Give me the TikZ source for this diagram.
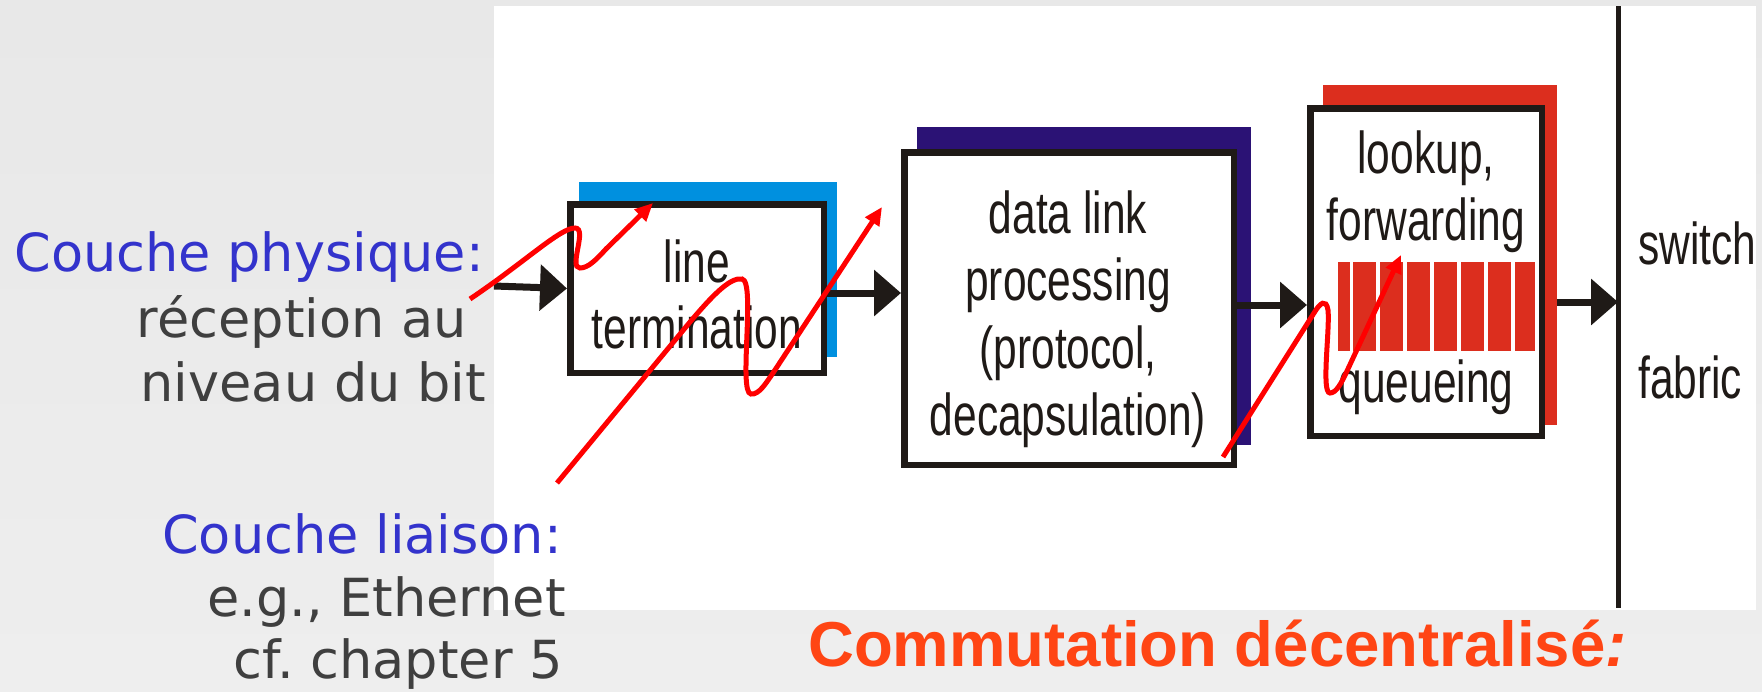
\documentclass[tikz,border=0pt]{standalone}
\usepackage{fontspec}
\setmainfont{DejaVu Sans}
\newfontfamily\narrowfont[FakeStretch=0.72]{Liberation Sans}
\newfontfamily\libsans{Liberation Sans}
\usetikzlibrary{arrows.meta}
\frenchspacing
\definecolor{bgtop}{HTML}{E8E8E8}
\definecolor{bgmid}{HTML}{E0E0E0}
\definecolor{bgbot}{HTML}{EEEEEE}
\definecolor{inkblack}{HTML}{1F1A17}
\definecolor{shblue}{HTML}{0090DF}
\definecolor{shnavy}{HTML}{2B1275}
\definecolor{shred}{HTML}{DC2E1E}
\definecolor{txtblue}{HTML}{3333CC}
\definecolor{txtgray}{HTML}{3F3F3F}
\definecolor{txtorange}{HTML}{FF4514}
\tikzset{
  shadowbox/.style={draw=none, inner sep=0pt, outer sep=0pt},
  procbox/.style={draw=inkblack, fill=white, line width=6.5pt, inner sep=0pt, outer sep=3.25pt},
  boxtext/.style={inner sep=0pt, anchor=base, text=inkblack, font=\narrowfont\fontsize{59}{68}\selectfont},
  sidetext/.style={inner sep=0pt, anchor=base east, font=\frenchspacing\fontsize{52.5}{63}\selectfont},
  blkarrow/.style={draw=inkblack, line width=7pt, -{Triangle[length=27pt,width=45pt]}},
  redarrow/.style={draw=red, line width=5pt, -{Triangle[length=18pt,width=16pt]}},
  qbar/.style={fill=shred, draw=none}
}
\begin{document}
\begin{tikzpicture}[x=1pt,y=-1pt]
\useasboundingbox (0,0) rectangle (1762,691);
\shade[top color=bgtop, middle color=bgmid, bottom color=bgbot] (0,0) rectangle (1762,691);
\fill[white] (494,6) rectangle (1756,610);

% shadows
\node[shadowbox, fill=shblue, minimum width=258pt, minimum height=175pt] (sh1) at (708,269.5) {};
\node[shadowbox, fill=shnavy, minimum width=334pt, minimum height=318pt] (sh2) at (1084,286) {};
\node[shadowbox, fill=shred, minimum width=234pt, minimum height=340pt] (sh3) at (1440,255) {};

% boxes
\node[procbox, minimum width=253.5pt, minimum height=168.5pt] (box1) at (697,288.5) {};
\node[procbox, minimum width=329.5pt, minimum height=312.5pt] (box2) at (1069,308.5) {};
\node[procbox, minimum width=231.5pt, minimum height=327.5pt] (box3) at (1426,272) {};

% queue bars
\fill[qbar] (1338,262) rectangle (1350,351);
\fill[qbar] (1353,262) rectangle (1376,351);
\fill[qbar] (1380,262) rectangle (1403,351);
\fill[qbar] (1407,262) rectangle (1430,351);
\fill[qbar] (1434,262) rectangle (1457,351);
\fill[qbar] (1461,262) rectangle (1484,351);
\fill[qbar] (1488,262) rectangle (1511,351);
\fill[qbar] (1515,262) rectangle (1535,351);

% box texts
\node[boxtext] (t1a) at (697,282) {line};
\node[boxtext] (t1b) at (697,348) {termination};
\node[boxtext] (t2a) at (1068,233) {data link};
\node[boxtext] (t2b) at (1068,300) {processing};
\node[boxtext] (t2c) at (1068,368) {(protocol,};
\node[boxtext] (t2d) at (1068,435) {decapsulation)};
\node[boxtext] (t3a) at (1426,173) {lookup,};
\node[boxtext] (t3b) at (1426,240) {forwarding};
\node[boxtext] (t3c) at (1426,402) {queueing};
\node[boxtext, anchor=base west] (sw1) at (1638,264) {switch};
\node[boxtext, anchor=base west] (sw2) at (1638,398) {fabric};

% switch fabric line
\coordinate (swtop) at (1618,6);
\coordinate (swbot) at (1618,608);
\draw[draw=inkblack, line width=5pt] (swtop) -- (swbot);

% black arrows
\coordinate (in1) at (494,286);
\coordinate (a2) at (0,293);
\coordinate (a3) at (0,305);
\coordinate (a4) at (0,302);
\draw[blkarrow] (in1) -- (box1.west);
\draw[blkarrow] (box1.east |- a2) -- (box2.west |- a2);
\draw[blkarrow] (box2.east |- a3) -- (box3.west |- a3);
\draw[blkarrow] (sh3.east |- a4) -- (swtop |- a4);

% side texts
\node[sidetext, text=txtblue] (cp1) at (484,271) {Couche physique:};
\node[sidetext, text=txtgray] (cp2) at (467,337) {réception au};
\node[sidetext, text=txtgray] (cp3) at (486,401) {niveau du bit};
\node[sidetext, text=txtblue] (cl1) at (562,553) {Couche liaison:};
\node[sidetext, text=txtgray] (cl2) at (566,616) {e.g., Ethernet};
\node[sidetext, text=txtgray] (cl3) at (563,678) {cf. chapter 5};

% red squiggles
\coordinate (r1s) at (470,299);
\coordinate (r1e) at (653,203);
\draw[redarrow] (r1s) .. controls (525,262) and (560,228) .. (575,228)
  .. controls (588,228) and (568,268) .. (580,268)
  .. controls (588,268) and (596,260) .. (606,249) -- (r1e);
\coordinate (r2s) at (557,483);
\coordinate (r2e) at (882,207);
\draw[redarrow] (r2s) -- (690,322) .. controls (712,296) and (730,277) .. (742,279)
  .. controls (756,281) and (738,393) .. (751,394)
  .. controls (759,395) and (766,383) .. (773,373) -- (r2e);
\coordinate (r3s) at (1223,457);
\coordinate (r3e) at (1401,255);
\draw[redarrow] (r3s) -- (1314,313) .. controls (1320,303) and (1326,298) .. (1328,310)
  .. controls (1330,330) and (1321,393) .. (1330,393)
  .. controls (1336,393) and (1341,384) .. (1347,371) -- (r3e);

% title
\node[inner sep=0pt, anchor=base west, text=txtorange, font=\libsans\bfseries\fontsize{63.5}{70}\selectfont] (title) at (808,666) {Commutation décentralisé{\itshape :}};
\end{tikzpicture}
\end{document}
